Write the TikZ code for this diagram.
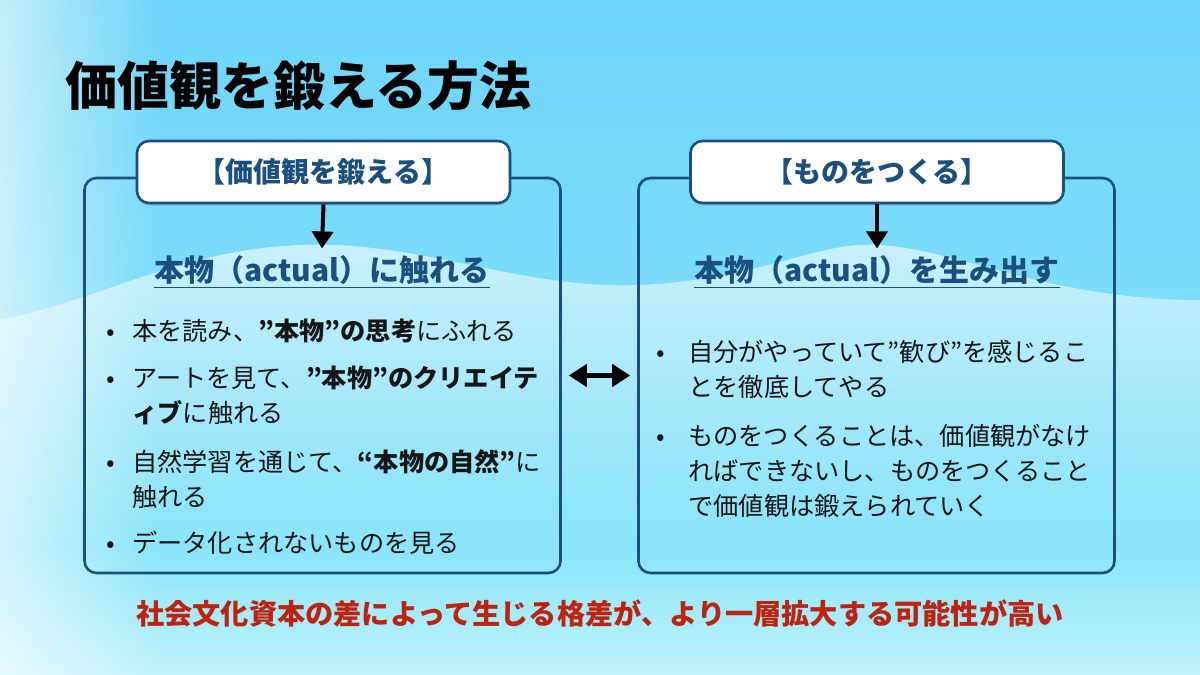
\documentclass[tikz,border=0pt]{standalone}
\usepackage{fontspec}
\setmainfont{Noto Sans CJK JP}
\usetikzlibrary{arrows.meta,fadings,shadows}
\definecolor{navy}{RGB}{27,79,125}
\definecolor{skyblue}{RGB}{122,214,246}
\definecolor{deepsky}{RGB}{110,212,248}
\definecolor{aqua}{RGB}{140,232,250}
\definecolor{darkred}{RGB}{190,35,15}
\definecolor{ink}{RGB}{22,22,22}

\begin{document}
\begin{tikzpicture}[x=0.5pt,y=-0.5pt,
    panel/.style={draw=navy,line width=1.3pt,rounded corners=6pt,minimum width=238pt,minimum height=197.5pt},
    header/.style={draw=navy,line width=1.3pt,fill=white,rounded corners=6pt,minimum width=186.5pt,minimum height=31pt,
      drop shadow={shadow xshift=0pt,shadow yshift=-1.2pt,opacity=0.4},
      text=navy,font=\fontsize{14pt}{16pt}\selectfont\bfseries},
    subhead/.style={text=navy,font=\fontsize{15pt}{17pt}\selectfont\bfseries},
    item/.style={anchor=west,inner sep=0pt,align=left,text=ink,font=\fontsize{12.6pt}{17.5pt}\selectfont},
    down/.style={-{Triangle[width=10.5pt,length=8.5pt]},line width=2pt,black},
    both/.style={{Triangle[width=11pt,length=9pt]}-{Triangle[width=11pt,length=9pt]},line width=2.2pt,black}]
        % background
        \fill[top color=deepsky,bottom color=aqua] (0,0) rectangle (1200,675);
        \fill[white,opacity=0.6,path fading=east] (0,0) rectangle (160,675);
        \fill[white,opacity=0.6,path fading=south] (0,320) .. controls (100,300) and (180,250) .. (300,245)
            .. controls (420,240) and (520,290) .. (640,285) .. controls (760,280) and (820,240) .. (880,245)
            .. controls (960,250) and (1050,300) .. (1200,300) -- (1200,560) -- (0,560) -- cycle;
        \fill[white,opacity=0.45,path fading=north] (0,540) rectangle (1200,675);
        \node[anchor=west,font=\fontsize{26pt}{30pt}\selectfont\bfseries,text=black] (title) at (58,86) {価値観を鍛える方法};
        % two panels
        \node[panel] (lpanel) at (322.5,375.5) {};
        \node[panel] (rpanel) at (876.5,375.5) {};
        \node[header] (lhead) at (323.5,172) {【価値観を鍛える】};
        \node[header] (rhead) at (877,172) {【ものをつくる】};
        \node[subhead] (lsub) at (322,272) {\underline{本物（actual）に触れる}};
        \node[subhead] (rsub) at (877,272) {\underline{本物（actual）を生み出す}};
        \draw[down] (lhead.south) -- (lsub.north);
        \draw[down] (rhead.south) -- (rsub.north);
        \draw[both,shorten <=3.5pt,shorten >=3.5pt] (lpanel.east) -- (rpanel.west);
        % left items
        \node[item] (l1) at (106,331) {\makebox[13pt][l]{•}本を読み、\textbf{”本物”の思考}にふれる};
        \node[item] (l2) at (106,395.5) {\makebox[13pt][l]{•}アートを見て、\textbf{”本物”のクリエイテ}\\\hspace*{13pt}\textbf{ィブ}に触れる};
        \node[item] (l3) at (106,479.5) {\makebox[13pt][l]{•}自然学習を通じて、\textbf{“本物の自然”}に\\\hspace*{13pt}触れる};
        \node[item] (l4) at (106,543) {\makebox[13pt][l]{•}データ化されないものを見る};
        % right items
        \node[item] (r1) at (656,369.5) {\makebox[16pt][l]{•}自分がやっていて”歓び”を感じるこ\\\hspace*{16pt}とを徹底してやる};
        \node[item] (r2) at (656,471) {\makebox[16pt][l]{•}ものをつくることは、価値観がなけ\\\hspace*{16pt}ればできないし、ものをつくること\\\hspace*{16pt}で価値観は鍛えられていく};
        \node[text=darkred,font=\fontsize{14.1pt}{16pt}\selectfont\bfseries] (note) at (600,614) {社会文化資本の差によって生じる格差が、より一層拡大する可能性が高い};
\end{tikzpicture}
\end{document}
